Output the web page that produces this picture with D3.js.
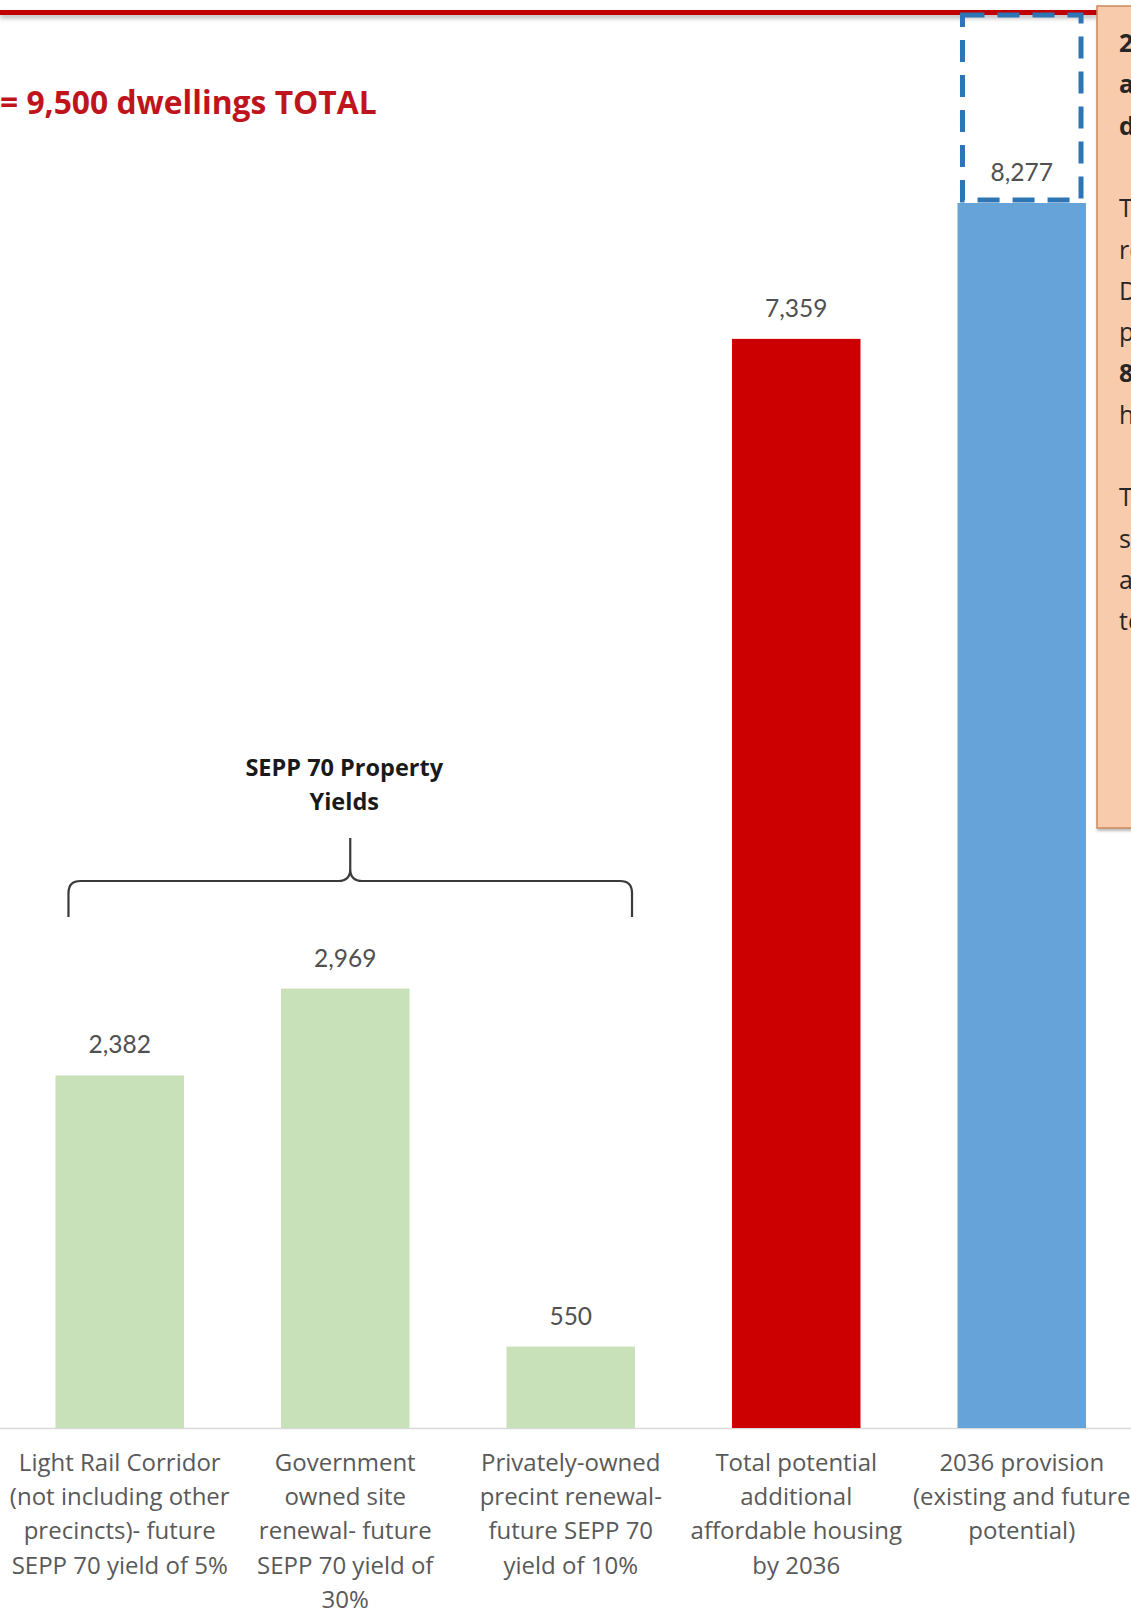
<!DOCTYPE html>
<html>
<head>
<meta charset="utf-8">
<script src="https://cdn.jsdelivr.net/npm/d3@7"></script>
<style>
  html, body { margin: 0; padding: 0; background: #fff; overflow: hidden; }
  svg { display: block; }
</style>
</head>
<body>
<svg id="chart" width="1131" height="1610"></svg>
<script>
// Affordable housing yields and 2036 provision
const categories = ["lightRail", "government", "private", "total", "provision"];
const categoryLines = [
  ["Light Rail Corridor", "(not including other", "precincts)- future", "SEPP 70 yield of 5%"],
  ["Government", "owned site", "renewal- future", "SEPP 70 yield of", "30%"],
  ["Privately-owned", "precint renewal-", "future SEPP 70", "yield of 10%"],
  ["Total potential", "additional", "affordable housing", "by 2036"],
  ["2036 provision", "(existing and future", "potential)"]
];
const values = [2382, 2969, 550, 7359, 8277];
const barColors = ["#c9e1b9", "#c9e1b9", "#c9e1b9", "#cc0000", "#65a3d8"];
const targetTotal = 9500;
const targetLabel = "= 9,500 dwellings TOTAL";
const bracketLabel = ["SEPP 70 Property", "Yields"];
const bracketGroup = [0, 2];
const noteLines = [
  { t: "2036 target of an", b: true },
  { t: "additional 9,500 affordable", b: true },
  { t: "dwellings", b: true },
  { t: "", b: false },
  { t: "The City's existing and future", b: false },
  { t: "residential potential under the", b: false },
  { t: "District Plan would", b: false },
  { t: "provide approximately", b: false },
  { t: "8,277 affordable", b: true },
  { t: "housing dwellings", b: false },
  { t: "", b: false },
  { t: "The remaining", b: false },
  { t: "shortfall would need to be", b: false },
  { t: "addressed through other", b: false },
  { t: "tools", b: false }
];

const W = 1131, H = 1610;
const svg = d3.select("#chart");
const FONT = "'Open Sans', Lato, sans-serif";
const NUMFONT = "Lato, 'Open Sans', sans-serif";

const defs = svg.append("defs");
const sh = defs.append("filter").attr("id", "shadow")
  .attr("filterUnits", "userSpaceOnUse")
  .attr("x", -20).attr("y", 0).attr("width", W + 40).attr("height", 40);
sh.append("feDropShadow").attr("dx", 0).attr("dy", 3).attr("stdDeviation", 2.5)
  .attr("flood-color", "#000").attr("flood-opacity", 0.3);
const sh2 = defs.append("filter").attr("id", "boxShadow")
  .attr("x", "-20%").attr("y", "-5%").attr("width", "140%").attr("height", "110%");
sh2.append("feDropShadow").attr("dx", 1).attr("dy", 2).attr("stdDeviation", 1.5)
  .attr("flood-color", "#000").attr("flood-opacity", 0.3);

const x = d3.scaleBand().domain(categories)
  .range([7, 1134.5]).paddingInner(0.43).paddingOuter(0.215);
const y = d3.scaleLinear().domain([0, targetTotal]).range([1428, 22]);
const fmt = d3.format(",");

// category axis
const axis = svg.append("g")
  .attr("transform", `translate(0,${y(0)})`)
  .call(d3.axisBottom(x).tickSize(0).tickFormat(""));
axis.select(".domain").remove();
axis.selectAll(".tick").each(function (d, i) {
  const t = d3.select(this).append("text")
    .attr("text-anchor", "middle")
    .attr("fill", "#595959")
    .style("font-family", FONT)
    .style("font-size", "24px");
  categoryLines[i].forEach((ln, j) => {
    t.append("tspan").attr("x", 0).attr("y", 43 + j * 34.2).text(ln);
  });
});

// baseline
svg.append("line")
  .attr("x1", 0).attr("x2", W)
  .attr("y1", y(0) + 0.5).attr("y2", y(0) + 0.5)
  .attr("stroke", "#d9d9d9").attr("stroke-width", 1.6);

// bars
svg.append("g").selectAll("rect").data(values).join("rect")
  .attr("x", (d, i) => x(categories[i]))
  .attr("y", d => y(d))
  .attr("width", x.bandwidth())
  .attr("height", d => y(0) - y(d))
  .attr("fill", (d, i) => barColors[i]);

// value labels
svg.append("g").selectAll("text").data(values).join("text")
  .attr("x", (d, i) => x(categories[i]) + x.bandwidth() / 2)
  .attr("y", d => y(d) - 22)
  .attr("text-anchor", "middle")
  .attr("fill", "#505050")
  .style("font-family", NUMFONT)
  .style("font-size", "24.5px")
  .text(d => fmt(d));

// target line and dashed gap to target
const lineY = y(targetTotal) - 9.5;
const noteX = 1097;
svg.append("rect")
  .attr("x", 0).attr("y", lineY - 2.5)
  .attr("width", noteX).attr("height", 5)
  .attr("fill", "#c00000")
  .attr("filter", "url(#shadow)");

const last = categories[categories.length - 1];
svg.append("rect")
  .attr("x", x(last) + 5)
  .attr("y", lineY + 2.5)
  .attr("width", x.bandwidth() - 10)
  .attr("height", y(values[values.length - 1]) - 3 - (lineY + 2.5))
  .attr("fill", "none")
  .attr("stroke", "#2e75b6")
  .attr("stroke-width", 5)
  .attr("stroke-dasharray", "22,13");

// target label
svg.append("text")
  .attr("x", 0).attr("y", 114)
  .attr("fill", "#c0141c")
  .style("font-family", FONT)
  .style("font-weight", "bold")
  .style("font-size", "31.8px")
  .text(targetLabel);

// bracket over the SEPP 70 bars
const bx0 = x(categories[bracketGroup[0]]) + 13;
const bx1 = x(categories[bracketGroup[1]]) + x.bandwidth() - 3;
const bm = (bx0 + bx1) / 2;
const by = 881, byEnd = 917, byTip = 838, r = 12;
const brace = d3.path();
brace.moveTo(bx0, byEnd);
brace.lineTo(bx0, by + r);
brace.quadraticCurveTo(bx0, by, bx0 + r, by);
brace.lineTo(bm - r, by);
brace.quadraticCurveTo(bm, by, bm, by - r);
brace.lineTo(bm, byTip);
brace.moveTo(bm, by - r);
brace.quadraticCurveTo(bm, by, bm + r, by);
brace.lineTo(bx1 - r, by);
brace.quadraticCurveTo(bx1, by, bx1, by + r);
brace.lineTo(bx1, byEnd);
svg.append("path").attr("d", brace.toString())
  .attr("fill", "none").attr("stroke", "#3a3a3a").attr("stroke-width", 2.2);

const bt = svg.append("text")
  .attr("text-anchor", "middle")
  .attr("fill", "#1a1a1a")
  .style("font-family", FONT)
  .style("font-weight", "bold")
  .style("font-size", "23.5px");
bracketLabel.forEach((ln, j) => {
  bt.append("tspan").attr("x", bm - 6).attr("y", 776 + j * 34).text(ln);
});

// note box on the right
svg.append("rect")
  .attr("x", noteX).attr("y", 6)
  .attr("width", 60).attr("height", 822)
  .attr("fill", "#f8cbad")
  .attr("stroke", "#c98a5e").attr("stroke-width", 1.5)
  .attr("filter", "url(#boxShadow)");
const nt = svg.append("text")
  .attr("fill", "#262626")
  .style("font-family", FONT)
  .style("font-size", "25px");
noteLines.forEach((ln, j) => {
  if (!ln.t) return;
  nt.append("tspan").attr("x", 1119).attr("y", 52 + j * 41.3)
    .style("font-weight", ln.b ? "bold" : "normal")
    .text(ln.t);
});
</script>
</body>
</html>
